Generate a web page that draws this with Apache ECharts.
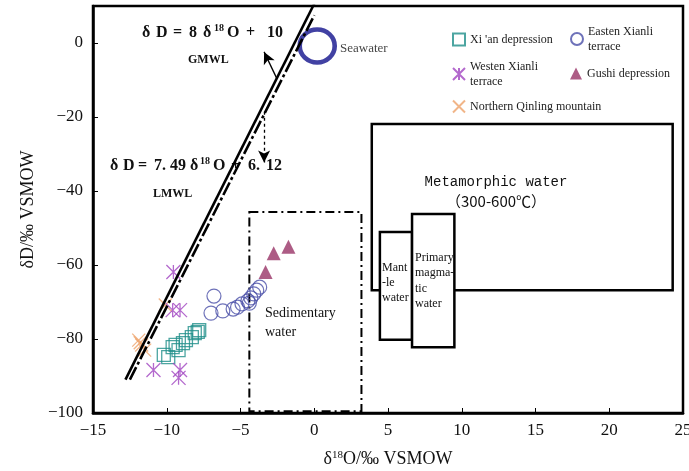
<!DOCTYPE html>
<html><head><meta charset="utf-8">
<script src="https://cdn.jsdelivr.net/npm/echarts@6/dist/echarts.min.js"></script>
<style>html,body{margin:0;padding:0;background:#fff}#c{width:689px;height:471px}</style>
</head><body><div id="c"></div>
<script>
// ---- data (δ18O, δD) ----
const xianDepression = [[-10.2,-84.3],[-9.9,-84.9],[-9.6,-82.2],[-9.4,-81.6],[-9.2,-83],[-8.9,-81.1],[-8.7,-80.3],[-8.3,-79.5],[-8.1,-78.4],[-7.9,-78.1],[-7.8,-77.6]];
const eastenXianli = [[-6.8,-68.4],[-7.0,-73],[-6.2,-72.4],[-5.5,-71.9],[-5.2,-71.4],[-4.9,-70.5],[-4.5,-69.7],[-4.4,-70.3],[-4.3,-68.9],[-4.1,-67.8],[-3.9,-66.8],[-3.7,-66]];
const westenXianli = [[-9.55,-61.9],[-9.6,-72.2],[-9.1,-72.2],[-10.9,-88.4],[-9.1,-88.4],[-9.2,-90.5]];
const gushiDepression = [[-3.3,-61.9],[-2.75,-56.8],[-1.75,-55.1]];
const northernQinling = [[-11.9,-80.3],[-11.8,-81],[-11.7,-81.6],[-11.5,-83],[-10.1,-70.8]];
const seawater = [[0.2,-0.8]];
const gmwlLine = [[-12.8,-91],[0.0,10.6]];
const lmwlLine = [[-12.5,-91],[0.0,7.5]];
// boxes: [x1, yTop, x2, yBottom]
const metamorphicBox = [[3.9,-21.9,24.3,-66.8]];
const mantleBox = [[4.45,-51.1,6.63,-80.2]];
const primaryBox = [[6.63,-46.2,9.5,-82.2]];
const sedimentaryBox = [[-4.4,-45.7,3.2,-99.5]];
const xTicks = [-15,-10,-5,0,5,10,15,20,25];
const yTicks = [-100,-80,-60,-40,-20,0];

const serif = '"Liberation Serif", "DejaVu Serif", serif';
const chart = echarts.init(document.getElementById('c'), null, {renderer:'canvas'});

function boxSeries(name, data, dashed, z){
  return {
    name: name, type: 'custom', z: z, silent: true,
    data: data,
    renderItem: function(params, api){
      const p1 = api.coord([api.value(0), api.value(1)]);
      const p2 = api.coord([api.value(2), api.value(3)]);
      return {
        type: 'rect',
        shape: {x: p1[0], y: p1[1], width: p2[0]-p1[0], height: p2[1]-p1[1]},
        style: {fill: dashed ? 'none' : '#fff', stroke: '#000', lineWidth: dashed ? 2 : 2.5,
                lineDash: dashed ? [9,4,2,4] : null}
      };
    }
  };
}

const markerBase = {type:'scatter', symbolSize: 14};
const asterisk = 'path://M5,0 L5,10 M0,0 L10,10 M0,10 L10,0';
const crossX = 'path://M0,0 L10,10 M0,10 L10,0';

const legendText = {fontFamily: serif, fontSize: 12, color: '#222', lineHeight: 15};
function lg(name, left, top){
  return {data:[name], left:left, top:top, itemWidth:12, itemHeight:12, itemGap:0,
          textStyle: legendText, selectedMode:false, padding:0};
}

// equation text pieces: [text, dx, isSuperscript]
function eqGroup(tokens, x, y){
  return {type:'group', x:x, y:y, z:10, children: tokens.map(t => ({
    type:'text', x:t[1], y: t[2] ? -5 : 0,
    style:{text:t[0], font: t[2] ? 'bold 10px '+serif : 'bold 16px '+serif, fill:'#111', verticalAlign:'middle', align:'left'}
  }))};
}
const eq1 = [['δ',0],['D',14],['=',31],['8',47],['δ',61],['18',72,true],['O',85],['+',104],['10',125]];
const eq2 = [['δ',0],['D',13],['=',28],['7.',44],['49',60],['δ',80],['18',90,true],['O',103],['+',121],['6.',138],['12',156]];

const option = {
  animation: false,
  backgroundColor: '#fff',
  grid: {left: 93, right: 6, top: 6, bottom: 58, show: true, borderColor: '#000', borderWidth: 2.5,
         outerBoundsMode: 'none', containLabel: false},
  xAxis: {
    type: 'value', min: -15, max: 25, interval: 5,
    axisLine: {show: true, onZero: false, lineStyle: {color:'#000', width: 2.5}},
    axisTick: {show: true, inside: true, length: 5, lineStyle:{color:'#000'}},
    splitLine: {show: false},
    axisLabel: {color:'#111', fontFamily: serif, fontSize: 17, margin: 9,
                formatter: v => xTicks.includes(v) ? String(v).replace('-', '−') : ''},
    name: '{d|δ}{s|18}{d|O/‰ VSMOW}', nameLocation: 'middle', nameGap: 37,
    nameTextStyle: {rich: {d: {fontFamily: serif, fontSize: 18, color:'#111'},
                           s: {fontFamily: serif, fontSize: 11, color:'#111', verticalAlign:'top', padding:[0,0,8,0]}}}
  },
  yAxis: {
    type: 'value', min: -100, max: 10, interval: 20,
    axisLine: {show: true, onZero: false, lineStyle: {color:'#000', width: 2.5}},
    axisTick: {show: true, inside: true, length: 5, lineStyle:{color:'#000'}},
    splitLine: {show: false},
    axisLabel: {color:'#111', fontFamily: serif, fontSize: 17, margin: 10, showMaxLabel: false,
                formatter: v => yTicks.includes(v) ? String(v).replace('-', '−') : ''},
    name: 'δD/‰ VSMOW', nameLocation: 'middle', nameGap: 55, nameRotate: 90,
    nameTextStyle: {fontFamily: serif, fontSize: 18, color:'#111'}
  },
  legend: [
    lg("Xi 'an depression", 452, 32),
    lg('Easten Xianli\nterrace', 570, 24),
    lg('Westen Xianli\nterrace', 452, 59),
    lg('Gushi depression', 570, 66),
    lg('Northern Qinling mountain', 452, 99)
  ],
  series: [
    boxSeries('metamorphic', metamorphicBox, false, 1),
    boxSeries('mantle', mantleBox, false, 2),
    boxSeries('primary', primaryBox, false, 3),
    boxSeries('sedimentary', sedimentaryBox, true, 2),
    {name:'Northern Qinling mountain', ...markerBase, z: 4, data: northernQinling, symbol: crossX, symbolSize: 13,
     itemStyle:{color:'transparent', borderColor:'#eea36a', borderWidth:1.3}},
    {name:"Xi 'an depression", ...markerBase, z: 4, data: xianDepression, symbol: 'rect', symbolSize: 13,
     itemStyle:{color:'transparent', borderColor:'#1f8e8a', borderWidth:1.3}},
    {name:'Easten Xianli\nterrace', ...markerBase, z: 4, data: eastenXianli, symbol: 'circle', symbolSize: 14,
     itemStyle:{color:'transparent', borderColor:'#4a4fa8', borderWidth:1.2}},
    {name:'Westen Xianli\nterrace', ...markerBase, z: 4, data: westenXianli, symbol: asterisk, symbolSize: 14,
     itemStyle:{color:'transparent', borderColor:'#a044c0', borderWidth:1.3}},
    {name:'Gushi depression', ...markerBase, z: 4, data: gushiDepression, symbol: 'triangle', symbolSize: 14,
     itemStyle:{color:'#993366'}},
    {name:'seawater', type:'scatter', z: 5, data: seawater, symbol:'circle', symbolSize:[35,33],
     itemStyle:{color:'transparent', borderColor:'#12128c', borderWidth:4.5},
     label:{show:true, position:'right', distance: 3, offset:[0,3], formatter:'Seawater', fontFamily: serif, fontSize: 13, color:'#111'}},
    {name:'GMWL', type:'line', z: 6, data: gmwlLine, showSymbol:false, symbol:'none', clip:true,
     lineStyle:{color:'#000', width:2.6}},
    {name:'LMWL', type:'line', z: 6, data: lmwlLine, showSymbol:false, symbol:'none', clip:true,
     lineStyle:{color:'#000', width:2.6, type:[14,3,3,3]},
     markLine: {silent:true, symbol:['none','arrow'], symbolSize:[9,12], label:{show:false},
       data: [
         [{coord:[-2.55,-9.5], lineStyle:{type:'solid', width:1.3, color:'#000'}}, {coord:[-3.4,-2.4]}],
         [{coord:[-3.4,-18.6], lineStyle:{type:[3,3], width:1.3, color:'#000'}}, {coord:[-3.4,-32.3]}]
       ]}}
  ],
  graphic: [
    eqGroup(eq1, 142, 33),
    {type:'text', left:188, top:54, z: 10, style:{text:'GMWL', font:'bold 12px '+serif, fill:'#111'}},
    eqGroup(eq2, 110, 166),
    {type:'text', left:153, top:188, z: 10, style:{text:'LMWL', font:'bold 12px '+serif, fill:'#111'}},
    {type:'text', x:496, y:182, z: 10, style:{text:'Metamorphic water', font:'14px "Liberation Mono", monospace', fill:'#111', align:'center', verticalAlign:'middle'}},
    {type:'text', x:496, y:201, z: 10, style:{text:'（300-600℃）', font:'15px "Noto Sans CJK SC", sans-serif', fill:'#111', align:'center', verticalAlign:'middle'}},
    {type:'text', left:265, top:304, z: 10, style:{text:'Sedimentary\nwater', font:'14px '+serif, fill:'#111', lineHeight:19}},
    {type:'text', left:382, top:260, z: 10, style:{text:'Mant\n-le\nwater', font:'12px '+serif, fill:'#111', lineHeight:15}},
    {type:'text', left:415, top:250, z: 10, style:{text:'Primary\nmagma-\ntic\nwater', font:'12px '+serif, fill:'#111', lineHeight:15.5}}
  ]
};
chart.setOption(option);
</script>
</body></html>
